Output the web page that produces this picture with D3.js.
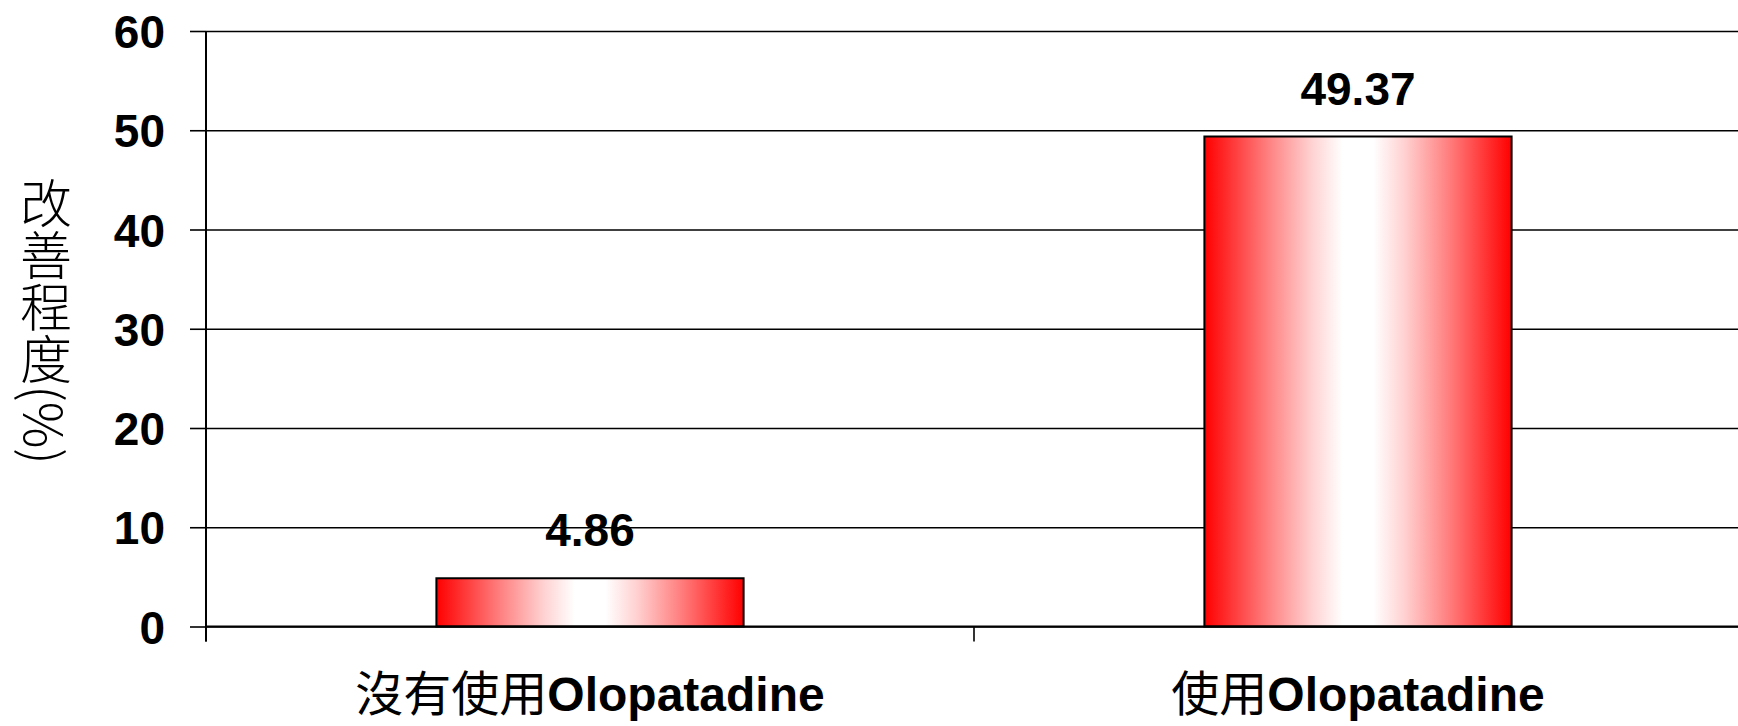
<!DOCTYPE html>
<html>
<head>
<meta charset="utf-8">
<script src="https://cdn.jsdelivr.net/npm/d3@7.9.0/dist/d3.min.js"></script>
<style>
  html, body { margin: 0; padding: 0; background: #fff; }
  svg { display: block; }
</style>
</head>
<body>
<svg id="chart" width="1738" height="726"></svg>
<script>
// data
const categories = ["沒有使用Olopatadine", "使用Olopatadine"];
const improvement = [4.86, 49.37];
const yTicks = [0, 10, 20, 30, 40, 50, 60];
const yTitle = "改善程度(%)";

const W = 1738, H = 726;
const plotLeft = 206, plotRight = 1742, plotTop = 31, plotBottom = 626.5;

const svg = d3.select("#chart");

// gradient for the bars: red at both edges, a wide white band in the middle
const gradStops = [
    [0, "#ff0000"], [0.2, "#ff7c7c"], [0.35, "#ffd2d2"], [0.45, "#ffffff"],
    [0.55, "#ffffff"], [0.65, "#ffd2d2"], [0.8, "#ff7c7c"], [1, "#ff0000"]
];
const grad = svg.append("defs").append("linearGradient")
    .attr("id", "barGrad")
    .attr("x1", "0%").attr("x2", "100%").attr("y1", "0%").attr("y2", "0%");
grad.selectAll("stop")
    .data(gradStops)
    .join("stop")
    .attr("offset", d => d[0])
    .attr("stop-color", d => d[1]);

// scales
let x = d3.scaleBand().domain(categories).range([plotLeft, plotRight]).padding(0);
let y = d3.scaleLinear().domain([0, 60]).range([plotBottom, plotTop]);
let barW = x.bandwidth() * 0.4;

// **gridlines**
svg.append("g")
    .attr("transform", `translate(${plotLeft},0)`)
    .call(d3.axisLeft(y).tickValues(yTicks).tickSize(-(W - plotLeft)).tickFormat(""))
    .call(g => g.select(".domain").remove())
    .call(g => g.selectAll("line").attr("stroke", "#000").attr("stroke-width", 1.6));

// **y axis with labels**
svg.append("g")
    .attr("transform", `translate(${plotLeft},0)`)
    .call(d3.axisLeft(y).tickValues(yTicks).tickSize(16).tickPadding(25).tickFormat(d3.format("d")))
    .call(g => g.select(".domain").remove())
    .call(g => g.selectAll("line").attr("stroke", "#000").attr("stroke-width", 1.6))
    .call(g => g.selectAll("text")
        .attr("fill", "#000")
        .style("font-family", "'Liberation Sans', Arial, sans-serif")
        .style("font-weight", "bold")
        .style("font-size", "46px")
        .attr("dy", "0.36em"));

// vertical axis line, running a bit below zero like the category ticks
svg.append("line")
    .attr("x1", plotLeft).attr("x2", plotLeft)
    .attr("y1", plotTop).attr("y2", plotBottom + 15)
    .attr("stroke", "#000").attr("stroke-width", 2);

// **bars**
svg.selectAll("rect.bar")
    .data(categories)
    .join("rect")
    .attr("class", "bar")
    .attr("x", d => x(d) + (x.bandwidth() - barW) / 2)
    .attr("y", (d, i) => y(improvement[i]))
    .attr("width", barW)
    .attr("height", (d, i) => y(0) - y(improvement[i]))
    .attr("fill", "url(#barGrad)")
    .attr("stroke", "#000")
    .attr("stroke-width", 2);

// baseline drawn over the bar bottoms
svg.append("line")
    .attr("x1", plotLeft).attr("x2", W)
    .attr("y1", y(0)).attr("y2", y(0))
    .attr("stroke", "#000").attr("stroke-width", 2);

// category boundary ticks
let bounds = categories.map(c => x(c)).concat([x.range()[1]]);
svg.selectAll("line.ctick")
    .data(bounds)
    .join("line")
    .attr("class", "ctick")
    .attr("x1", d => d).attr("x2", d => d)
    .attr("y1", y(0)).attr("y2", y(0) + 15)
    .attr("stroke", "#000").attr("stroke-width", 1.6);

// **value labels**
svg.selectAll("text.val")
    .data(categories)
    .join("text")
    .attr("class", "val")
    .attr("x", d => x(d) + x.bandwidth() / 2)
    .attr("y", (d, i) => y(improvement[i]) - 32)
    .attr("text-anchor", "middle")
    .style("font-family", "'Liberation Sans', Arial, sans-serif")
    .style("font-weight", "bold")
    .style("font-size", "46px")
    .text((d, i) => improvement[i].toFixed(2));

// **category labels**: CJK part regular, latin part bold
let catText = svg.selectAll("text.cat")
    .data(categories)
    .join("text")
    .attr("class", "cat")
    .attr("x", d => x(d) + x.bandwidth() / 2)
    .attr("y", 711)
    .attr("text-anchor", "middle")
    .style("font-size", "48px");

catText.each(function (d) {
    let m = d.match(/^([^\x00-\x7F]*)(.*)$/);
    let t = d3.select(this);
    t.append("tspan")
        .style("font-family", "'Noto Sans CJK TC', 'Noto Sans CJK SC', sans-serif")
        .style("font-weight", "normal")
        .text(m[1]);
    t.append("tspan")
        .style("font-family", "'Liberation Sans', Arial, sans-serif")
        .style("font-weight", "bold")
        .text(m[2]);
});

// **y axis title**, vertical writing
svg.append("text")
    .attr("x", 46)
    .attr("y", 321)
    .attr("text-anchor", "middle")
    .style("writing-mode", "vertical-rl")
    .style("font-family", "'Noto Sans CJK TC', 'Noto Sans CJK SC', sans-serif")
    .style("font-weight", 300)
    .style("font-size", "52px")
    .text(yTitle);
</script>
</body>
</html>
